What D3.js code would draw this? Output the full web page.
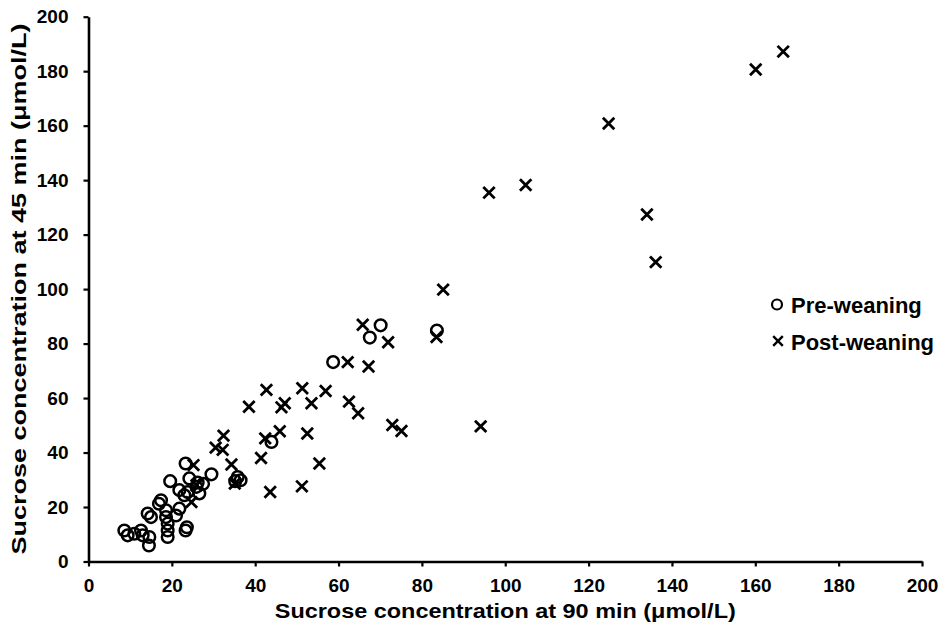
<!DOCTYPE html>
<html>
<head>
<meta charset="utf-8">
<script src="https://cdn.jsdelivr.net/npm/d3@7"></script>
<style>
  html, body { margin: 0; padding: 0; background: #fff; }
  svg { display: block; }
  text { font-family: "Liberation Sans", Arial, sans-serif; font-weight: bold; fill: #000; }
</style>
</head>
<body>
<svg id="chart" width="948" height="631"></svg>
<script>
// ---- data ----
const xTicks = [0, 20, 40, 60, 80, 100, 120, 140, 160, 180, 200];
const yTicks = [0, 20, 40, 60, 80, 100, 120, 140, 160, 180, 200];
const seriesNames = ["Pre-weaning", "Post-weaning"];
const xTitle = "Sucrose concentration at 90 min (μmol/L)";
const yTitle = "Sucrose concentration at 45 min (μmol/L)";

const preX = [70.1, 67.5, 58.7, 83.6, 43.9, 35.8, 36.5, 35.2, 29.5, 23.3, 19.6, 24.2, 26.2, 21.8, 23.8, 25.9, 23.0, 26.6, 17.4, 16.9, 14.2, 15.0, 18.6, 18.6, 19.0, 19.0, 19.0, 21.8, 21.0, 23.6, 23.3, 8.6, 9.4, 11.0, 12.6, 13.0, 14.6, 14.5, 27.5];
const preY = [86.7, 82.2, 73.2, 84.8, 43.9, 31.0, 29.8, 29.5, 32.0, 36.0, 29.5, 30.5, 29.0, 26.2, 25.5, 27.4, 24.3, 25.0, 22.5, 21.2, 17.6, 16.3, 18.8, 16.3, 13.9, 11.4, 9.0, 19.4, 16.9, 12.6, 11.4, 11.4, 9.6, 10.2, 11.4, 9.6, 9.0, 5.9, 28.5];

const postX = [166.7, 160.1, 124.8, 104.9, 96.1, 134.0, 136.1, 85.1, 65.8, 71.9, 62.2, 67.2, 83.5, 42.7, 51.3, 56.9, 38.5, 47.1, 46.3, 53.5, 62.5, 64.7, 72.9, 75.1, 94.1, 32.4, 30.5, 32.2, 42.4, 45.9, 52.5, 41.4, 55.4, 34.3, 35.1, 43.6, 51.2, 25.2, 24.7, 25.9];
const postY = [187.2, 180.6, 160.8, 138.2, 135.4, 127.4, 109.9, 99.8, 86.9, 80.5, 73.2, 71.6, 82.4, 63.0, 63.6, 62.6, 56.8, 58.1, 56.6, 58.1, 58.7, 54.4, 50.1, 47.9, 49.6, 46.2, 41.8, 41.0, 45.2, 47.8, 47.0, 38.0, 36.0, 35.6, 28.6, 25.5, 27.6, 35.4, 21.8, 28.0];

// ---- layout ----
const svg = d3.select("#chart");
const margin = { left: 88.5, top: 16.7, right: 26, bottom: 69.5 };
const W = 948, H = 631;
const x = d3.scaleLinear().domain([0, 200]).range([margin.left, W - margin.right]);
const y = d3.scaleLinear().domain([0, 200]).range([H - margin.bottom, margin.top]);

// axes
const xAxis = svg.append("g")
  .attr("transform", `translate(0,${y(0)})`)
  .call(d3.axisBottom(x).tickValues(xTicks).tickSize(5).tickSizeOuter(0).tickPadding(12));
const yAxis = svg.append("g")
  .attr("transform", `translate(${x(0)},0)`)
  .call(d3.axisLeft(y).tickValues(yTicks).tickSize(5).tickSizeOuter(0).tickPadding(15));

[xAxis, yAxis].forEach(g => {
  g.select(".domain").attr("stroke", "#000").attr("stroke-width", 2.6);
  g.selectAll(".tick line").attr("stroke", "#000").attr("stroke-width", 2.2);
  g.selectAll(".tick text")
    .style("font-family", '"Liberation Sans", Arial, sans-serif')
    .style("font-weight", "bold")
    .style("font-size", "19px")
    .attr("fill", "#000");
});
xAxis.selectAll(".tick text").attr("dy", "0.71em");

// axis titles
svg.append("text")
  .attr("x", x(100))
  .attr("y", 618)
  .attr("text-anchor", "middle")
  .style("font-size", "21px")
  .attr("textLength", 461)
  .attr("lengthAdjust", "spacingAndGlyphs")
  .text(xTitle);

svg.append("text")
  .attr("transform", `translate(26,${(y(0) + y(200)) / 2}) rotate(-90)`)
  .attr("text-anchor", "middle")
  .style("font-size", "21px")
  .attr("textLength", 531)
  .attr("lengthAdjust", "spacingAndGlyphs")
  .text(yTitle);

// marks
const pre = preX.map((v, i) => ({ x: v, y: preY[i] }));
const post = postX.map((v, i) => ({ x: v, y: postY[i] }));

svg.append("g").selectAll("circle").data(pre).join("circle")
  .attr("cx", d => x(d.x))
  .attr("cy", d => y(d.y))
  .attr("r", 5.8)
  .attr("fill", "none")
  .attr("stroke", "#000")
  .attr("stroke-width", 2.5);

const s = 5.7;
svg.append("g").selectAll("path").data(post).join("path")
  .attr("d", d => {
    const cx = x(d.x), cy = y(d.y);
    return `M${cx - s},${cy - s}L${cx + s},${cy + s}M${cx - s},${cy + s}L${cx + s},${cy - s}`;
  })
  .attr("fill", "none")
  .attr("stroke", "#000")
  .attr("stroke-width", 2.8);

// legend
const lg = svg.append("g");
lg.append("circle").attr("cx", 777).attr("cy", 304.5).attr("r", 5)
  .attr("fill", "none").attr("stroke", "#000").attr("stroke-width", 2.2);
lg.append("text").attr("x", 791).attr("y", 313).style("font-size", "22px").text(seriesNames[0]);
const ls = 4.8, lx = 778, ly = 341;
lg.append("path")
  .attr("d", `M${lx - ls},${ly - ls}L${lx + ls},${ly + ls}M${lx - ls},${ly + ls}L${lx + ls},${ly - ls}`)
  .attr("stroke", "#000").attr("stroke-width", 2.4).attr("fill", "none");
lg.append("text").attr("x", 791).attr("y", 350).style("font-size", "22px").text(seriesNames[1]);
</script>
</body>
</html>
